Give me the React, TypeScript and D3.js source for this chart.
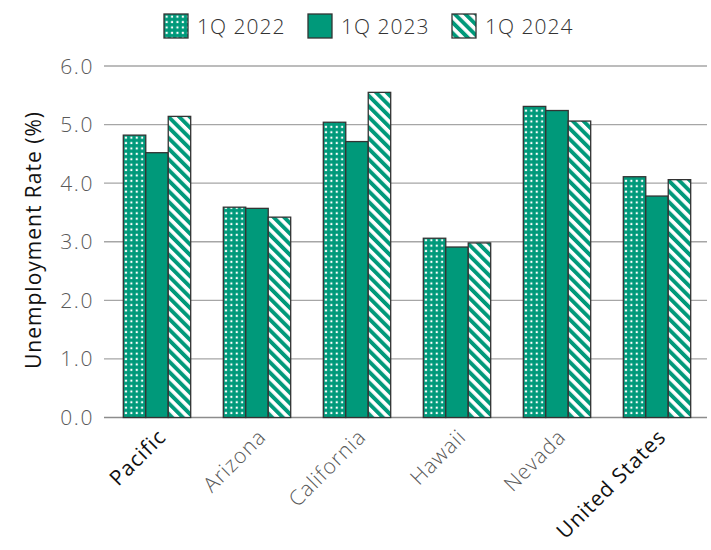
import React from "react";
import * as d3 from "d3";

const categories = ["Pacific", "Arizona", "California", "Hawaii", "Nevada", "United States"];
const boldCategories = ["Pacific", "United States"];
const seriesNames = ["1Q 2022", "1Q 2023", "1Q 2024"];
const q2022 = [4.82, 3.59, 5.04, 3.06, 5.31, 4.11];
const q2023 = [4.52, 3.57, 4.71, 2.91, 5.24, 3.78];
const q2024 = [5.14, 3.42, 5.55, 2.98, 5.06, 4.06];
const yTicks = [0, 1, 2, 3, 4, 5, 6];
const yTitle = "Unemployment Rate (%)";

const W = 711;
const H = 550;
const GREEN = "#00997a";
const FONT = "'Open Sans', 'Liberation Sans', sans-serif";
const fills = ["url(#dots)", GREEN, "url(#stripes)"];

export default function App() {
  const series = [q2022, q2023, q2024];
  const y = d3.scaleLinear().domain([0, 6]).range([417.5, 66]);
  const x = d3
    .scaleBand<string>()
    .domain(categories)
    .range([107, 707])
    .paddingInner(0.326)
    .paddingOuter(0.163);
  const xi = d3.scaleBand<string>().domain(seriesNames).range([0, x.bandwidth()]);

  return (
    <svg
      width={W}
      height={H}
      style={{ position: "absolute", left: 0, top: 0, background: "#fff" }}
      fontFamily={FONT}
    >
      <defs>
        <pattern id="dots" width={5.4} height={5.4} patternUnits="userSpaceOnUse">
          <rect width={5.4} height={5.4} fill={GREEN} />
          <rect x={1.6} y={1.6} width={2.1} height={2.1} fill="#fff" />
        </pattern>
        <pattern
          id="stripes"
          width={7.5}
          height={7.5}
          patternUnits="userSpaceOnUse"
          patternTransform="rotate(-45)"
        >
          <rect width={7.5} height={7.5} fill="#fff" />
          <rect width={3.9} height={7.5} fill={GREEN} />
        </pattern>
      </defs>

      {/* gridlines */}
      {yTicks.map((t) => (
        <line
          key={t}
          x1={104}
          x2={707}
          y1={y(t)}
          y2={y(t)}
          stroke={t === 0 ? "#8c8c8c" : "#a6a6a6"}
          strokeWidth={1.3}
        />
      ))}
      {yTicks.map((t) => (
        <text
          key={"l" + t}
          x={94}
          y={y(t)}
          dy="0.36em"
          textAnchor="end"
          fontSize={21}
          fontWeight={300}
          letterSpacing={1.6}
          fill="#595959"
        >
          {t.toFixed(1)}
        </text>
      ))}

      <text
        transform={`translate(41,240) rotate(-90)`}
        textAnchor="middle"
        fontSize={21}
        letterSpacing={1}
        fill="#111"
      >
        {yTitle}
      </text>

      {/* bars */}
      {categories.map((c, ci) => (
        <g key={c} transform={`translate(${x(c)},0)`}>
          {series.map((s, si) => (
            <rect
              key={si}
              x={xi(seriesNames[si])}
              y={y(s[ci])}
              width={xi.bandwidth()}
              height={y(0) - y(s[ci])}
              fill={fills[si]}
              stroke="#333"
              strokeWidth={1.3}
            />
          ))}
        </g>
      ))}

      {/* x labels */}
      {categories.map((c) => {
        const cx = (x(c) as number) + x.bandwidth() / 2;
        const bold = boldCategories.includes(c);
        return (
          <text
            key={"x" + c}
            transform={`translate(${cx + 5},${433}) rotate(-45)`}
            textAnchor="end"
            dy="0.35em"
            fontSize={21}
            letterSpacing={1}
            fontWeight={bold ? 400 : 300}
            fill={bold ? "#111" : "#595959"}
          >
            {c}
          </text>
        );
      })}

      {/* legend */}
      {seriesNames.map((n, i) => (
        <g key={n} transform={`translate(${164 + i * 144},14)`}>
          <rect width={24} height={24} fill={fills[i]} stroke="#333" strokeWidth={1.3} />
          <text x={33} y={19.5} fontSize={21} fontWeight={300} letterSpacing={1} fill="#333">
            {n}
          </text>
        </g>
      ))}
    </svg>
  );
}
